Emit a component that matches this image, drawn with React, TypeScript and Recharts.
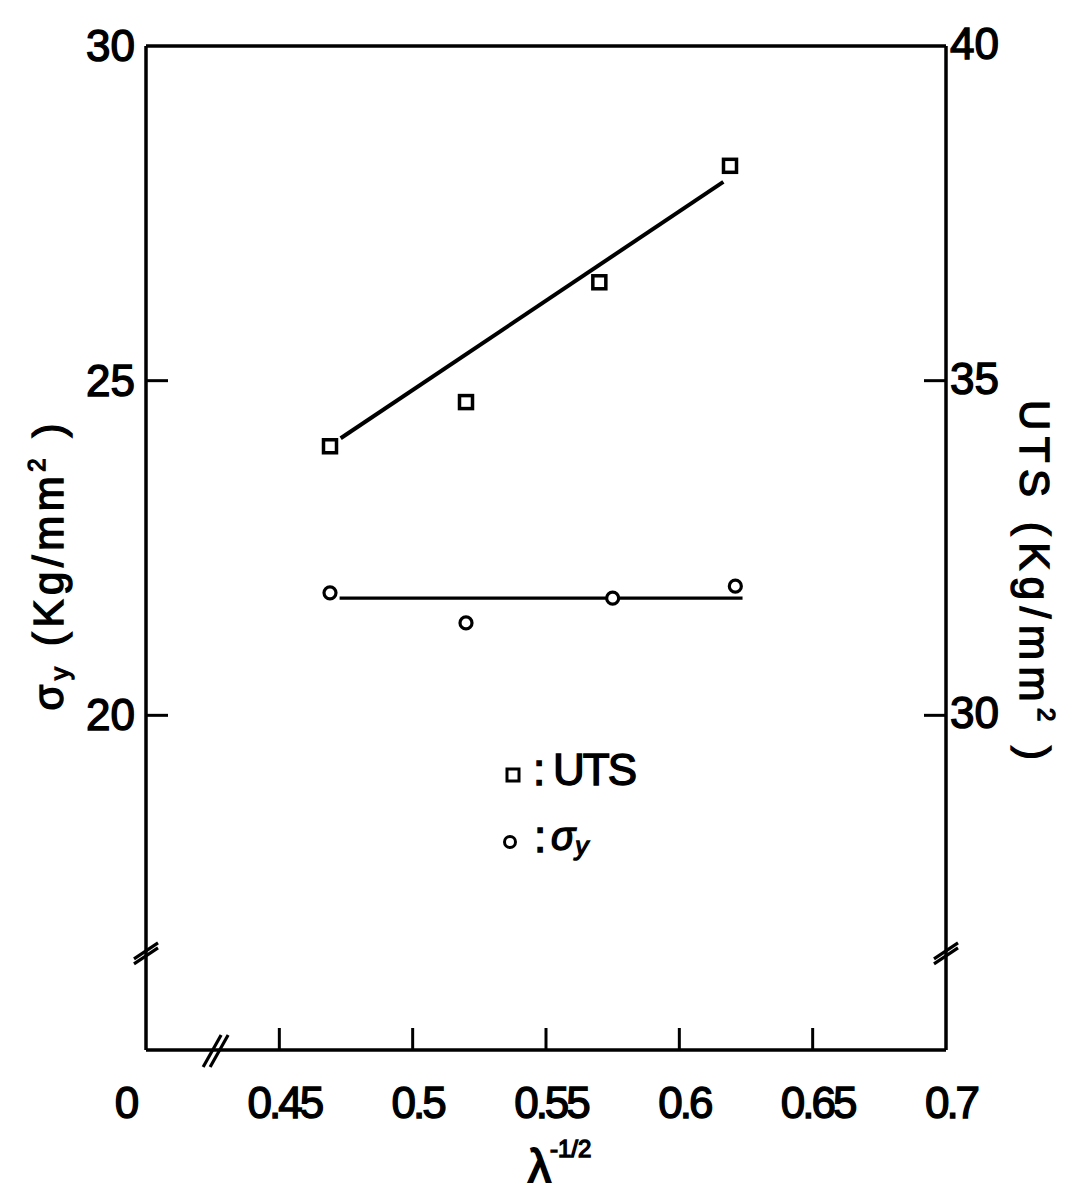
import React from 'react';
import {
  ComposedChart,
  Line,
  Scatter,
  XAxis,
  YAxis,
  ReferenceLine,
  ReferenceDot,
} from 'recharts';

// readings from the figure
const utsX = [0.469, 0.52, 0.57, 0.619];
const utsValues = [34.02, 34.68, 36.47, 38.21];
const sigmaX = [0.469, 0.52, 0.575, 0.621];
const sigmaValues = [21.83, 21.38, 21.75, 21.93];

// fitted lines (end points)
const utsFitX = [0.473, 0.6165];
const utsFitValues = [34.14, 37.97];
const sigmaFitX = [0.4726, 0.6237];
const sigmaFitValues = [21.75, 21.75];

const xDomain = [0.4, 0.7];
const xTicks = [0.4, 0.45, 0.5, 0.55, 0.6, 0.65, 0.7];
const xTickLabels = ['0', '0.45', '0.5', '0.55', '0.6', '0.65', '0.7'];
const leftDomain = [15, 30];
const leftTicks = [20, 25, 30];
const rightDomain = [25, 40];
const rightTicks = [30, 35, 40];

const utsPoints = utsX.map((x, i) => ({ x, y: utsValues[i] }));
const sigmaPoints = sigmaX.map((x, i) => ({ x, y: sigmaValues[i] }));
const utsFit = utsFitX.map((x, i) => ({ x, y: utsFitValues[i] }));
const sigmaFit = sigmaFitX.map((x, i) => ({ x, y: sigmaFitValues[i] }));

const W = 1081;
const H = 1186;
const FONT = '"Liberation Sans", Arial, sans-serif';
const INK = '#000';

const textStyle = {
  fontFamily: FONT,
  fontSize: 44,
  fill: INK,
  stroke: INK,
  strokeWidth: 1.4,
};

function TickText({ x, y, anchor, label }: any) {
  const s = String(label);
  const tight = s.includes('.');
  return (
    <text x={x} y={y} textAnchor={anchor} style={{ ...textStyle, letterSpacing: tight ? -3 : 0 }}>
      {s}
    </text>
  );
}

function XTick(props: any) {
  const { x, y, payload } = props;
  const v = payload.value;
  const inner = v > xDomain[0] && v < xDomain[1];
  const label = xTickLabels[xTicks.indexOf(v)];
  const dx = v === xDomain[0] ? -19 : 5;
  return (
    <g>
      {inner && <line x1={x} y1={y} x2={x} y2={y - 22} stroke={INK} strokeWidth={3} />}
      <TickText x={x + dx} y={y + 68} anchor="middle" label={label} />
    </g>
  );
}

function LeftTick(props: any) {
  const { x, y, payload } = props;
  const v = payload.value;
  return (
    <g>
      {v < leftDomain[1] && <line x1={x} y1={y} x2={x + 22} y2={y} stroke={INK} strokeWidth={3} />}
      <TickText x={x - 11} y={y + 15} anchor="end" label={v} />
    </g>
  );
}

function RightTick(props: any) {
  const { x, y, payload } = props;
  const v = payload.value;
  return (
    <g>
      {v < rightDomain[1] && <line x1={x} y1={y} x2={x - 22} y2={y} stroke={INK} strokeWidth={3} />}
      <TickText x={x + 4} y={y + 13} anchor="start" label={v} />
    </g>
  );
}

function SquareMark({ cx, cy }: any) {
  return <rect x={cx - 6.5} y={cy - 6.5} width={13} height={13} fill="#fff" stroke={INK} strokeWidth={3.5} />;
}

function CircleMark({ cx, cy }: any) {
  return <circle cx={cx} cy={cy} r={6} fill="#fff" stroke={INK} strokeWidth={3.2} />;
}

// "//" marks crossing a vertical axis
function VBreak({ cx, cy }: any) {
  return (
    <g stroke={INK} strokeWidth={3.2}>
      <line x1={cx - 12} y1={cy + 6} x2={cx + 12} y2={cy - 10} />
      <line x1={cx - 12} y1={cy + 11} x2={cx + 12} y2={cy - 5} />
    </g>
  );
}

// "//" marks crossing the x axis
function HBreak({ cx, cy }: any) {
  return (
    <g stroke={INK} strokeWidth={3.2}>
      <line x1={cx - 13} y1={cy + 17} x2={cx + 5} y2={cy - 15} />
      <line x1={cx - 6} y1={cy + 17} x2={cx + 12} y2={cy - 15} />
    </g>
  );
}

function LeftLabel({ viewBox }: any) {
  const cx = viewBox.x + 40;
  const cy = 559;
  return (
    <text
      x={cx}
      y={cy + 15}
      transform={`rotate(-90 ${cx} ${cy})`}
      textAnchor="middle"
      textLength={287}
      lengthAdjust="spacing"
      style={{ ...textStyle, fontSize: 42 }}
    >
      σ<tspan fontSize={26} dy={6}>y</tspan>
      <tspan dy={-6}> (Kg/mm</tspan>
      <tspan fontSize={24} dy={-18}>2</tspan>
      <tspan dy={18}> )</tspan>
    </text>
  );
}

function RightLabel({ viewBox }: any) {
  const cx = viewBox.x + 89;
  const cy = 572;
  return (
    <text
      x={cx}
      y={cy + 15}
      transform={`rotate(90 ${cx} ${cy})`}
      textAnchor="middle"
      textLength={360}
      lengthAdjust="spacing"
      style={{ ...textStyle, fontSize: 42 }}
    >
      UTS (Kg/mm<tspan fontSize={24} dy={-18}>2</tspan>
      <tspan dy={18}> )</tspan>
    </text>
  );
}

function BottomLabel({ viewBox }: any) {
  const x = viewBox.x + 382;
  const y = viewBox.y + 132;
  return (
    <g>
      <text x={x} y={y} style={{ ...textStyle, fontSize: 46, strokeWidth: 1.8 }}>λ</text>
      <text x={x + 22} y={y - 25} style={{ ...textStyle, fontSize: 24, strokeWidth: 1.4 }}>-1/2</text>
    </g>
  );
}

function LegendOverlay() {
  return (
    <svg width={W} height={H} style={{ position: 'absolute', left: 0, top: 0, pointerEvents: 'none' }}>
      <rect x={499} y={761} width={12} height={12} fill="#fff" stroke={INK} strokeWidth={3} />
      <text x={525} y={777} style={textStyle}>:</text>
      <text x={545} y={777} style={{ ...textStyle, letterSpacing: -2 }}>UTS</text>
      <circle cx={502} cy={834} r={5.5} fill="#fff" stroke={INK} strokeWidth={3} />
      <text x={526} y={844} style={textStyle}>:</text>
      <text x={543} y={842} style={{ ...textStyle, fontSize: 40, fontStyle: 'italic' }}>
        σ<tspan fontSize={26} dy={5}>y</tspan>
      </text>
    </svg>
  );
}

export default function App() {
  const axisLine = { stroke: INK, strokeWidth: 3.5 };
  return (
    <div style={{ position: 'relative', width: W, height: H }}>
      <ComposedChart width={W} height={H} margin={{ top: 38, right: 0, bottom: 0, left: 0 }}>
        <XAxis
          dataKey="x"
          type="number"
          domain={xDomain}
          ticks={xTicks}
          interval={0}
          allowDataOverflow
          height={144}
          axisLine={axisLine}
          tickLine={false}
          tickSize={0}
          tickMargin={0}
          tick={<XTick />}
          label={{ content: <BottomLabel /> }}
        />
        <YAxis
          yAxisId="left"
          orientation="left"
          type="number"
          domain={leftDomain}
          ticks={leftTicks}
          interval={0}
          allowDataOverflow
          width={138}
          axisLine={axisLine}
          tickLine={false}
          tickSize={0}
          tickMargin={0}
          tick={<LeftTick />}
          label={{ content: <LeftLabel /> }}
        />
        <YAxis
          yAxisId="right"
          orientation="right"
          type="number"
          domain={rightDomain}
          ticks={rightTicks}
          interval={0}
          allowDataOverflow
          width={143}
          axisLine={axisLine}
          tickLine={false}
          tickSize={0}
          tickMargin={0}
          tick={<RightTick />}
          label={{ content: <RightLabel /> }}
        />
        <ReferenceLine yAxisId="left" y={leftDomain[1]} stroke={INK} strokeWidth={3.5} />
        <ReferenceDot yAxisId="left" x={xDomain[0]} y={16.45} r={0} shape={<VBreak />} />
        <ReferenceDot yAxisId="right" x={xDomain[1]} y={26.45} r={0} shape={<VBreak />} />
        <ReferenceDot yAxisId="left" x={0.4263} y={leftDomain[0]} r={0} shape={<HBreak />} />
        <Line
          yAxisId="right"
          data={utsFit}
          dataKey="y"
          stroke={INK}
          strokeWidth={4}
          dot={false}
          activeDot={false}
          isAnimationActive={false}
        />
        <Line
          yAxisId="left"
          data={sigmaFit}
          dataKey="y"
          stroke={INK}
          strokeWidth={3.2}
          dot={false}
          activeDot={false}
          isAnimationActive={false}
        />
        <Scatter yAxisId="right" data={utsPoints} dataKey="y" shape={<SquareMark />} isAnimationActive={false} />
        <Scatter yAxisId="left" data={sigmaPoints} dataKey="y" shape={<CircleMark />} isAnimationActive={false} />
      </ComposedChart>
      <LegendOverlay />
    </div>
  );
}
